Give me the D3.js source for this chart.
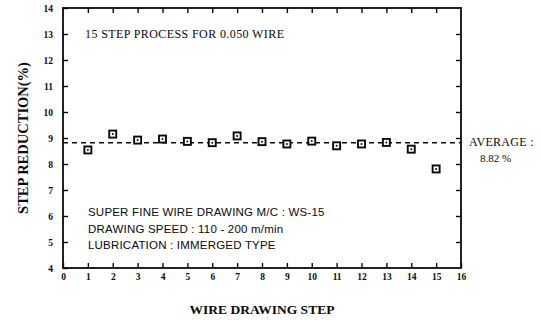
<!DOCTYPE html>
<html>
<head>
<meta charset="utf-8">
<script src="https://cdn.jsdelivr.net/npm/d3@7"></script>
<style>
  html, body { margin: 0; padding: 0; background: #fff; }
  svg { display: block; }
  .serif { font-family: "Liberation Serif", "DejaVu Serif", serif; }
  .sans { font-family: "Liberation Sans", "DejaVu Sans", sans-serif; }
</style>
</head>
<body>
<svg id="chart" width="540" height="321"></svg>
<script>
// Step reduction per drawing step (15-step process)
const steps = [1, 2, 3, 4, 5, 6, 7, 8, 9, 10, 11, 12, 13, 14, 15];
const reduction = [8.54, 9.15, 8.92, 8.96, 8.87, 8.82, 9.08, 8.86, 8.77, 8.88, 8.70, 8.77, 8.83, 8.57, 7.81];
const average = 8.82;
const xTicks = d3.range(0, 17);
const yTicks = d3.range(4, 15);
const noteTop = "15 STEP  PROCESS FOR 0.050 WIRE";
const noteLines = [
  "SUPER FINE WIRE DRAWING M/C : WS-15",
  "DRAWING SPEED :  110 - 200 m/min",
  "LUBRICATION : IMMERGED TYPE"
];

const svg = d3.select("#chart");
const x = d3.scaleLinear().domain([0, 16]).range([63, 461]);
const y = d3.scaleLinear().domain([4, 14]).range([268, 8]);

const ink = "#0a0a0a";
const tickLen = 5;

// Frame
svg.append("rect")
  .attr("x", x(0)).attr("y", y(14))
  .attr("width", x(16) - x(0)).attr("height", y(4) - y(14))
  .attr("fill", "none").attr("stroke", ink).attr("stroke-width", 1.8);

// Bottom axis with inward ticks
const gx = svg.append("g").attr("transform", `translate(0,${y(4)})`)
  .call(d3.axisBottom(x).tickValues(xTicks).tickSizeInner(-tickLen).tickSizeOuter(0).tickPadding(10));
// Left axis with inward ticks
const gy = svg.append("g").attr("transform", `translate(${x(0)},0)`)
  .call(d3.axisLeft(y).tickValues(yTicks).tickSizeInner(-tickLen).tickSizeOuter(0).tickPadding(10));
// Top and right mirrored ticks, no labels
const gt = svg.append("g").attr("transform", `translate(0,${y(14)})`)
  .call(d3.axisTop(x).tickValues(xTicks.slice(1, -1)).tickSizeInner(-tickLen).tickSizeOuter(0).tickFormat(""));
const gr = svg.append("g").attr("transform", `translate(${x(16)},0)`)
  .call(d3.axisRight(y).tickValues(yTicks.slice(1, -1)).tickSizeInner(-tickLen).tickSizeOuter(0).tickFormat(""));

[gx, gy, gt, gr].forEach(g => {
  g.select(".domain").remove();
  g.selectAll(".tick line").attr("stroke", ink).attr("stroke-width", 1.4);
  g.selectAll(".tick text")
    .attr("class", "serif")
    .attr("fill", ink)
    .style("font-size", "9.5px")
    .style("font-weight", "bold");
});
gx.selectAll(".tick text").attr("dy", "0.2em");

// Average line
svg.append("line")
  .attr("x1", x(0)).attr("x2", x(16))
  .attr("y1", y(average)).attr("y2", y(average))
  .attr("stroke", ink).attr("stroke-width", 1.5)
  .attr("stroke-dasharray", "5,4");

// Data markers: open square with a centre dot
const pts = svg.append("g").selectAll("g")
  .data(steps.map((s, i) => ({ s, v: reduction[i] })))
  .join("g")
  .attr("transform", d => `translate(${x(d.s)},${y(d.v)})`);
pts.append("rect")
  .attr("x", -3.5).attr("y", -3.5).attr("width", 7).attr("height", 7)
  .attr("fill", "#fff").attr("stroke", ink).attr("stroke-width", 1.9);
pts.append("circle").attr("r", 1).attr("fill", ink);

// Average label
svg.append("text").attr("class", "serif")
  .attr("x", 469).attr("y", 146)
  .style("font-size", "12px").style("letter-spacing", "0.3px").attr("fill", ink)
  .text("AVERAGE :");
svg.append("text").attr("class", "serif")
  .attr("x", 480).attr("y", 162)
  .style("font-size", "11px").attr("fill", ink)
  .text(average.toFixed(2) + " %");

// Notes inside the plot
svg.append("text").attr("class", "serif")
  .attr("x", 85).attr("y", 38)
  .style("font-size", "12px").style("letter-spacing", "0.4px").attr("fill", ink)
  .text(noteTop);
svg.append("g").selectAll("text")
  .data(noteLines)
  .join("text")
  .attr("class", "sans")
  .attr("x", 88).attr("y", (d, i) => 216 + i * 16.5)
  .style("font-size", "11.5px").style("letter-spacing", "0.2px").attr("fill", ink)
  .text(d => d);

// Axis titles
svg.append("text").attr("class", "serif")
  .attr("transform", `translate(23,${(y(4) + y(14)) / 2}) rotate(-90)`)
  .attr("text-anchor", "middle").attr("dy", "0.35em")
  .style("font-size", "14.5px").style("font-weight", "bold").attr("fill", ink)
  .text("STEP REDUCTION(%)");
svg.append("text").attr("class", "serif")
  .attr("x", 262).attr("y", 314)
  .attr("text-anchor", "middle")
  .style("font-size", "13.5px").style("font-weight", "bold").attr("fill", ink)
  .text("WIRE DRAWING STEP");
</script>
</body>
</html>
